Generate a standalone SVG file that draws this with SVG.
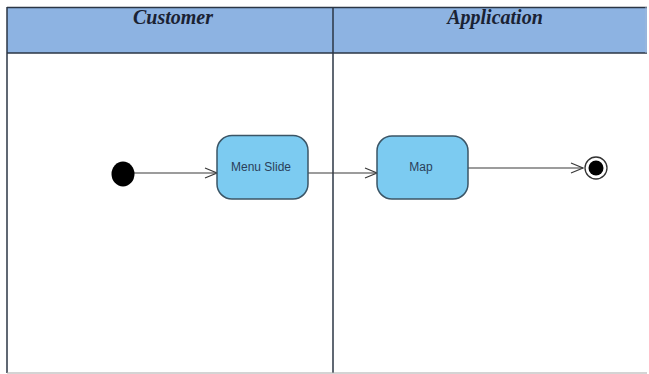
<svg xmlns="http://www.w3.org/2000/svg" width="649" height="374" viewBox="0 0 649 374">
<style>
.hdr{font-family:"Liberation Serif",serif;font-style:italic;font-weight:bold;font-size:20px;fill:#1a2233;text-anchor:middle}
.lbl{font-family:"Liberation Sans",Arial,sans-serif;font-size:12px;fill:#2a3f5a;text-anchor:middle}
.node{fill:#7ccbf1;stroke:#3b5566;stroke-width:1.5}
.edge{stroke:#3a3a3a;stroke-width:1.2;fill:none}
</style>
<defs>
<marker id="open" markerWidth="14" markerHeight="12" refX="13" refY="6" orient="auto" markerUnits="userSpaceOnUse">
<path d="M1,1 L13,6 L1,11" fill="none" stroke="#3a3a3a" stroke-width="1.2"/>
</marker>
</defs>
<rect width="649" height="374" fill="#ffffff"/>
<g id="lanes">
<rect x="7" y="7.5" width="640" height="45.5" fill="#8db3e2"/>
<line x1="7" y1="7.5" x2="647" y2="7.5" stroke="#2b3645" stroke-width="1.5"/>
<line x1="7" y1="53" x2="647" y2="53" stroke="#2b3645" stroke-width="1.5"/>
<line x1="7" y1="7" x2="7" y2="373" stroke="#2b3645" stroke-width="1.5"/>
<line x1="333" y1="7" x2="333" y2="373" stroke="#2b3645" stroke-width="1.5"/>
<line x1="646" y1="7" x2="646" y2="53" stroke="#a0b8d8" stroke-width="1"/>
<line x1="7" y1="373" x2="647" y2="373" stroke="#aaaaaa" stroke-width="1.2"/>
<text class="hdr" x="173" y="24">Customer</text>
<text class="hdr" x="495" y="24">Application</text>
</g>
<g id="connectors">
<line class="edge" x1="134" y1="173" x2="217" y2="173" marker-end="url(#open)"/>
<line class="edge" x1="308" y1="173" x2="377" y2="173" marker-end="url(#open)"/>
<line class="edge" x1="468" y1="168" x2="583" y2="168" marker-end="url(#open)"/>
</g>
<g id="start">
<ellipse cx="123" cy="174" rx="11.5" ry="12.5" fill="#000"/>
</g>
<g id="menu-slide">
<rect class="node" x="217" y="135.5" width="91" height="63.5" rx="15"/>
<text class="lbl" x="261" y="171">Menu Slide</text>
</g>
<g id="map">
<rect class="node" x="377" y="136" width="91" height="63" rx="15"/>
<text class="lbl" x="421" y="171">Map</text>
</g>
<g id="end">
<circle cx="596" cy="168" r="11" fill="#fff" stroke="#333" stroke-width="1.3"/>
<circle cx="596" cy="168" r="7.5" fill="#000"/>
</g>
</svg>
